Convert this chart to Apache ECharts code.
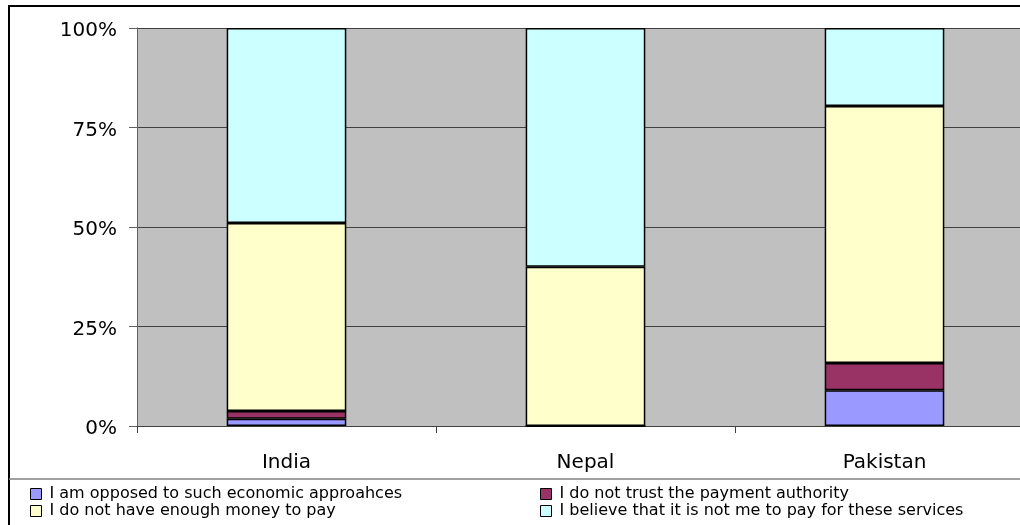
<!DOCTYPE html>
<html><head><meta charset="utf-8">
<script src="https://cdn.jsdelivr.net/npm/echarts@6/dist/echarts.min.js"></script>
<style>html,body{margin:0;padding:0;background:#fff}#c{width:1020px;height:525px}</style>
</head><body><div id="c"></div>
<script>
const categories = ['India', 'Nepal', 'Pakistan'];
const seriesNames = [
  'I am opposed to such economic approahces',
  'I do not trust the payment authority',
  'I do not have enough money to pay',
  'I believe that it is not me to pay for these services'
];
const opposed = [1.8, 0, 9.0];
const noTrust = [2.0, 0, 6.8];
const noMoney = [47.2, 40.0, 64.6];
const notMe = [49.0, 60.0, 19.6];
const yTicks = [0, 25, 50, 75, 100];
const colors = ['#9999FF', '#993366', '#FFFFCC', '#CCFFFF'];

const FONT = 'DejaVu Sans';
const values = [opposed, noTrust, noMoney, notMe];
const chart = echarts.init(document.getElementById('c'), null, {renderer: 'canvas'});
const legendText = {fontSize: 16, color: '#000', fontFamily: FONT, lineHeight: 15, padding: [0, 0, 0, 3]};
chart.setOption({
  animation: false,
  textStyle: {fontFamily: FONT},
  grid: {left: 137, top: 28, height: 398, width: 897, outerBoundsMode: 'none', containLabel: false,
         show: true, backgroundColor: '#C0C0C0', borderWidth: 0},
  xAxis: {
    type: 'category', data: categories,
    axisLine: {lineStyle: {color: '#404040', width: 1}},
    axisTick: {show: true, length: 7, lineStyle: {color: '#404040'}},
    axisLabel: {fontSize: 20, color: '#000', margin: 27, fontFamily: FONT}
  },
  yAxis: {
    type: 'value', min: yTicks[0], max: yTicks[yTicks.length - 1], interval: 25,
    axisLine: {show: true, lineStyle: {color: '#606060'}},
    axisTick: {show: true, length: 8, lineStyle: {color: '#606060'}},
    splitLine: {lineStyle: {color: '#404040', width: 1}},
    axisLabel: {color: '#000', margin: 20, formatter: '{v|{value}%}',
      rich: {v: {fontSize: 20, color: '#000', fontFamily: FONT, padding: [6, 0, 0, 0]}}}
  },
  legend: [
    {left: 30, top: 486, orient: 'vertical', itemGap: 1, itemWidth: 11, itemHeight: 11, icon: 'rect',
     itemStyle: {borderColor: '#000', borderWidth: 1},
     data: [seriesNames[0], seriesNames[2]], textStyle: legendText, padding: 0},
    {left: 540, top: 486, orient: 'vertical', itemGap: 1, itemWidth: 11, itemHeight: 11, icon: 'rect',
     itemStyle: {borderColor: '#000', borderWidth: 1},
     data: [seriesNames[1], seriesNames[3]], textStyle: legendText, padding: 0}
  ],
  graphic: [
    {type: 'rect', shape: {x: 9, y: 6, width: 1030, height: 540}, style: {fill: 'none', stroke: '#000', lineWidth: 2}, z: 100},
    {type: 'line', shape: {x1: 9, y1: 479, x2: 1020, y2: 479}, style: {stroke: '#808080', lineWidth: 1.5}, z: 100}
  ],
  series: seriesNames.map((n, i) => ({
    name: n, type: 'bar', stack: 'all', data: values[i], barWidth: '40%',
    itemStyle: {color: colors[i], borderColor: '#000', borderWidth: 1.5},
    emphasis: {disabled: true}
  }))
});
</script></body></html>
